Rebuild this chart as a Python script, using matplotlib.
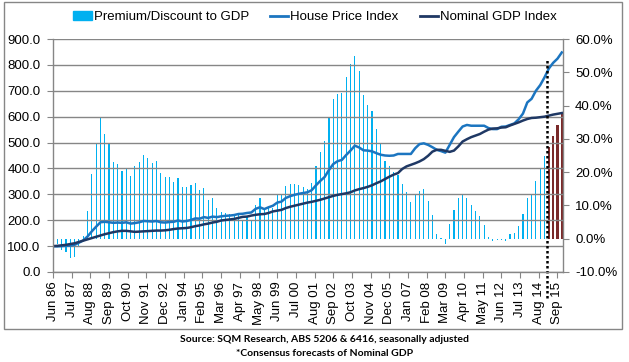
import matplotlib
matplotlib.use("Agg")
import matplotlib.pyplot as plt
from matplotlib.patches import Rectangle, Patch
from matplotlib.lines import Line2D
import numpy as np

plt.rcParams['font.family'] = ['Liberation Sans', 'DejaVu Sans']

# quarterly, Jun 86 .. Dec 15
tick_labels = ["Jun 86", "Jul 87", "Aug 88", "Sep 89", "Oct 90", "Nov 91", "Dec 92",
               "Jan 94", "Feb 95", "Mar 96", "Apr 97", "May 98", "Jun 99", "Jul 00",
               "Aug 01", "Sep 02", "Oct 03", "Nov 04", "Dec 05", "Jan 07", "Feb 08",
               "Mar 09", "Apr 10", "May 11", "Jun 12", "Jul 13", "Aug 14", "Sep 15"]

premium = [0, -1.6, -3.3, -4.0, -5.8, -5.5, -2.4, 0.8, 8.4, 19.5,
           28.7, 36.4, 31.5, 28.7, 23.1, 22.5, 20.4, 21.1, 18.7, 21.9,
           23.1, 25.2, 24.3, 22.8, 23.4, 19.8, 18.6, 18.6, 17.1, 18.3,
           15.6, 15.6, 16.2, 16.8, 14.7, 15.3, 11.7, 12.3, 9.3, 8.1,
           7.8, 7.5, 7.5, 7.2, 5.7, 6.6, 5.7, 10.2, 12.3, 8.7,
           9.6, 9.3, 13.5, 13.5, 15.9, 16.5, 16.5, 16.2, 15.6, 15.0,
           16.7, 21.9, 26.0, 29.4, 36.4, 42.0, 43.5, 43.9, 48.6, 52.5,
           54.9, 50.4, 43.2, 40.1, 38.4, 33.0, 28.7, 23.4, 21.9, 20.0,
           19.1, 16.5, 14.1, 11.1, 13.5, 14.4, 15.0, 11.4, 7.2, 1.5,
           0.2, -1.7, 4.5, 8.7, 12.3, 13.5, 12.3, 10.2, 8.4, 6.9,
           4.2, 0.4, -0.8, -0.5, -0.5, -0.8, 1.5, 1.8, 3.9, 7.5,
           12.3, 13.2, 17.4, 21.1, 24.7]
premium_forecast = [27.5, 30.9, 34.1, 37.7]

hpi = [100, 99, 100, 101, 102, 105, 113, 122, 137, 157,
       175, 192, 194, 192, 190, 191, 190, 192, 187, 189,
       192, 197, 196, 195, 197, 192, 191, 193, 194, 199,
       195, 197, 201, 207, 206, 212, 209, 214, 212, 215,
       217, 218, 220, 224, 225, 228, 230, 244, 250, 243,
       250, 256, 268, 272, 286, 293, 298, 302, 305, 308,
       316, 335, 352, 367, 394, 417, 428, 433, 452, 469,
       488, 481, 470, 469, 466, 459, 453, 450, 449, 450,
       456, 456, 456, 456, 478, 494, 497, 491, 482, 472,
       467, 461, 491, 521, 542, 562, 568, 565, 565, 565,
       565, 556, 552, 552, 561, 562, 568, 574, 590, 612,
       655, 669, 700, 722, 752, 786, 808, 824, 848]

gdp = [100, 101, 103, 105, 108, 111, 116, 121, 126, 131,
       136, 141, 146, 150, 154, 157, 159, 159, 157, 155,
       156, 157, 158, 159, 160, 160, 161, 163, 166, 168,
       169, 170, 173, 177, 180, 184, 187, 191, 194, 199,
       201, 203, 205, 209, 213, 214, 218, 221, 223, 224,
       228, 234, 237, 240, 247, 252, 256, 260, 264, 268,
       271, 275, 279, 284, 289, 294, 298, 301, 304, 308,
       315, 320, 324, 329, 335, 343, 350, 359, 368, 376,
       382, 398, 408, 414, 420, 427, 436, 449, 465, 472,
       472, 468, 464, 469, 485, 504, 513, 521, 527, 533,
       542, 550, 554, 555, 558, 559, 566, 572, 578, 585,
       591, 595, 596, 598, 600, 604, 608, 611, 614]

c_bar = '#00B0F0'
c_fc = '#7A2A2A'
c_hpi = '#1C75C0'
c_gdp = '#1F3864'
c_grid = '#868686'

months = np.arange(len(hpi)) * 3
n_hist = len(premium)

fig = plt.figure(figsize=(6.29, 3.62), dpi=100)
ax = fig.add_axes([53/629, 1-272/362, (562.5-53)/629, 233/362])
ax2 = ax.twinx()
ax.set_zorder(2)
ax.patch.set_visible(False)

ax2.bar(months[:n_hist], premium, width=0.8, color=c_bar)
ax2.bar(months[n_hist:], premium_forecast, width=1.6, color=c_fc)
ax.plot(months, hpi, color=c_hpi, lw=1.8)
ax.plot(months, gdp, color=c_gdp, lw=1.8)

ax.set_xlim(0, 354.5)
ax.set_ylim(0, 900)
ax2.set_ylim(-10, 60)
ax.set_yticks(range(0, 1000, 100), [f"{v:.1f}" for v in range(0, 1000, 100)])
ax2.set_yticks(range(-10, 70, 10), [f"{v:.1f}%" for v in range(-10, 70, 10)])
ax.set_xticks(np.arange(len(tick_labels)) * 13, tick_labels, rotation=90)
ax.grid(axis='y', color=c_grid, lw=1)

for s in ['top', 'right']:
    ax.spines[s].set_visible(False)
for s in ['top', 'left', 'bottom']:
    ax2.spines[s].set_visible(False)
for a in (ax, ax2):
    for s in a.spines.values():
        s.set_color(c_grid)
        s.set_linewidth(1)
    a.tick_params(length=4, color=c_grid, labelsize=9.5, pad=3)
ax.tick_params(axis='y', pad=5)
ax2.tick_params(axis='y', pad=5)

# forecast divider
ax.add_line(Line2D([343.5, 343.5], [-0.11, 0.91], transform=ax.get_xaxis_transform(),
                   color='black', ls=(0, (1, 1)), lw=1.8, clip_on=False))

handles = [Patch(color=c_bar), Line2D([], [], color=c_hpi, lw=2), Line2D([], [], color=c_gdp, lw=2)]
fig.legend(handles, ["Premium/Discount to GDP", "House Price Index", "Nominal GDP Index"],
           loc='center', bbox_to_anchor=(315/629, 1-17/362), ncol=3, frameon=False,
           fontsize=9.5, handlelength=1.4, handleheight=0.6, columnspacing=1.6, handletextpad=0.15)

fig.text(325/629, 1-340/362, "Source: SQM Research, ABS 5206 & 6416, seasonally adjusted",
         ha='center', va='center', fontsize=7.5, fontweight='bold', family=['Lato', 'DejaVu Sans'])
fig.text(325/629, 1-354/362, "*Consensus forecasts of Nominal GDP",
         ha='center', va='center', fontsize=7.5, fontweight='bold', family=['Lato', 'DejaVu Sans'])

fig.add_artist(Rectangle((4/629, 1-329/362), 618/629, 327/362, transform=fig.transFigure,
                         fill=False, ec=c_grid, lw=1))

fig.savefig('out.png', dpi=100)
